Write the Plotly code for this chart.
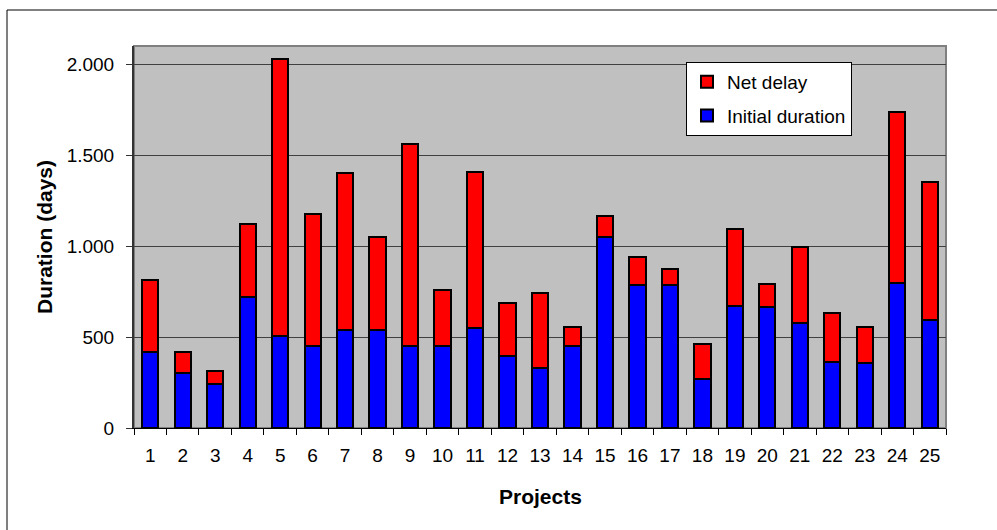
import plotly.graph_objects as go

# Project durations in days
projects = [str(i) for i in range(1, 26)]
initial_duration = [417, 302, 241, 719, 506, 450, 538, 538, 452, 452, 549, 394, 331,
                    452, 1048, 786, 788, 267, 668, 667, 575, 363, 357, 797, 595]
net_delay = [398, 115, 72, 405, 1522, 724, 865, 510, 1110, 308, 861, 295, 413,
             105, 117, 152, 86, 193, 424, 124, 421, 271, 200, 941, 760]

y_tickvals = [0, 500, 1000, 1500, 2000]
y_ticktext = ["0", "500", "1.000", "1.500", "2.000"]

W, H = 997, 530
L, R, T, B = 134, 51, 46, 102
plot_w = W - L - R
plot_h = H - T - B


def px_x(x):
    return (x - L) / plot_w


def px_y(y):
    return (H - B - y) / plot_h


FONT = "Liberation Sans, Arial, sans-serif"

fig = go.Figure()
fig.add_trace(go.Bar(
    x=projects, y=initial_duration, name="Initial duration",
    legendgroup="initial", legendrank=2,
    marker=dict(color="#0000FF", line=dict(color="black", width=2)),
))
fig.add_trace(go.Bar(
    x=projects, y=net_delay, name="Net delay",
    legendgroup="delay", legendrank=1,
    marker=dict(color="#FF0000", line=dict(color="black", width=2)),
))

fig.update_layout(
    width=W, height=H,
    margin=dict(l=L, r=R, t=T, b=B, pad=0),
    barmode="stack", bargap=0.5,
    paper_bgcolor="white", plot_bgcolor="#C0C0C0",
    font=dict(family=FONT, size=19, color="black"),
    showlegend=True,
    legend=dict(
        x=px_x(686), y=px_y(62), xanchor="left", yanchor="top",
        traceorder="grouped", tracegroupgap=6,
        bgcolor="white", bordercolor="black", borderwidth=1,
        font=dict(size=19),
    ),
    xaxis=dict(
        type="category", tickson="boundaries",
        ticks="outside", ticklen=6, tickcolor="black", tickwidth=1,
        showline=True, linecolor="black", linewidth=1,
        showgrid=False, ticklabelstandoff=10,
    ),
    yaxis=dict(
        range=[0, 2100], tickvals=y_tickvals, ticktext=y_ticktext,
        ticks="outside", ticklen=6, tickcolor="#333333", tickwidth=1,
        showline=True, linecolor="#333333", linewidth=2,
        showgrid=True, gridcolor="#404040", gridwidth=1,
        zeroline=False, ticklabelstandoff=8,
    ),
    shapes=[
        # plot-area frame (top/right edges)
        dict(type="rect", xref="paper", yref="paper", x0=0, x1=1, y0=0, y1=1,
             line=dict(color="#808080", width=2), layer="below"),
        # outer chart frame
        dict(type="line", xref="paper", yref="paper",
             x0=px_x(7), x1=px_x(1010), y0=px_y(10), y1=px_y(10),
             line=dict(color="black", width=1)),
        dict(type="line", xref="paper", yref="paper",
             x0=px_x(7), x1=px_x(7), y0=px_y(10), y1=px_y(540),
             line=dict(color="black", width=1)),
    ],
    annotations=[
        dict(text="<b>Projects</b>", xref="paper", yref="paper",
             x=0.5, y=px_y(496), xanchor="center", yanchor="middle",
             showarrow=False, font=dict(size=21)),
        dict(text="<b>Duration (days)</b>", xref="paper", yref="paper",
             x=px_x(44), y=px_y(237), xanchor="center", yanchor="middle",
             textangle=-90, showarrow=False, font=dict(size=21)),
    ],
)

fig.write_html("out.html")
